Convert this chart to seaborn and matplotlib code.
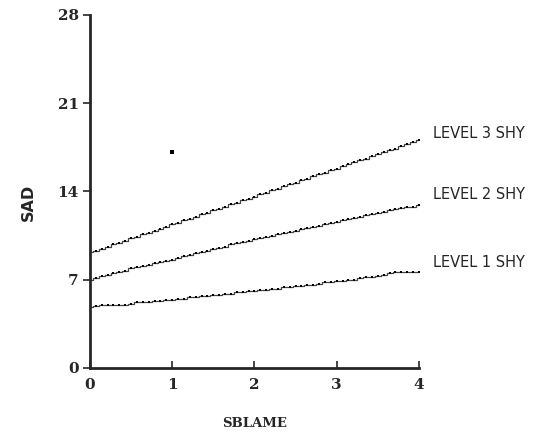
import numpy as np
import pandas as pd
import seaborn as sns
import matplotlib
matplotlib.use("Agg")
import matplotlib.pyplot as plt

# x sampled every 1/14 of a unit, 0..4
sblame = [k / 14 for k in range(57)]

level1 = [4.8, 4.9, 5.0, 5.0, 5.0, 5.0, 5.0, 5.1, 5.2, 5.2, 5.2, 5.3, 5.3, 5.4,
          5.4, 5.5, 5.5, 5.6, 5.6, 5.7, 5.7, 5.8, 5.8, 5.9, 5.9, 6.0, 6.0, 6.1,
          6.1, 6.2, 6.2, 6.3, 6.3, 6.4, 6.4, 6.5, 6.5, 6.6, 6.6, 6.7, 6.8, 6.8,
          6.9, 6.9, 7.0, 7.0, 7.1, 7.2, 7.2, 7.3, 7.4, 7.5, 7.6, 7.6, 7.6, 7.6, 7.6]
level2 = [7.0, 7.1, 7.3, 7.4, 7.5, 7.6, 7.7, 7.9, 8.0, 8.1, 8.2, 8.3, 8.4, 8.5,
          8.6, 8.7, 8.9, 9.0, 9.1, 9.2, 9.3, 9.4, 9.5, 9.6, 9.8, 9.9, 10.0, 10.1,
          10.2, 10.3, 10.4, 10.5, 10.6, 10.7, 10.8, 10.9, 11.0, 11.1, 11.2, 11.3, 11.4, 11.5,
          11.6, 11.7, 11.8, 11.9, 12.0, 12.1, 12.2, 12.3, 12.4, 12.5, 12.6, 12.7, 12.8, 12.8, 12.9]
level3 = [9.2, 9.3, 9.4, 9.6, 9.8, 9.9, 10.1, 10.3, 10.4, 10.6, 10.7, 10.9, 11.0, 11.2,
          11.4, 11.5, 11.7, 11.8, 12.0, 12.2, 12.3, 12.5, 12.6, 12.8, 13.0, 13.1, 13.3, 13.4,
          13.6, 13.8, 13.9, 14.1, 14.2, 14.4, 14.6, 14.7, 14.9, 15.0, 15.2, 15.4, 15.5, 15.7,
          15.8, 16.0, 16.2, 16.3, 16.5, 16.6, 16.8, 17.0, 17.1, 17.3, 17.4, 17.6, 17.8, 17.9, 18.1]

# lone point above the lines
stray_x = [1.0]
stray_y = [17.1]

series_names = ["LEVEL 1 SHY", "LEVEL 2 SHY", "LEVEL 3 SHY"]
label_y = [8.4, 13.8, 18.6]

y_ticks = [0, 7, 14, 21, 28]
x_ticks = [0, 1, 2, 3, 4]

sns.set_style("ticks")
plt.rcParams['font.family'] = ['DejaVu Sans']

fig = plt.figure(figsize=(5.5, 4.36), dpi=100)
ax = fig.add_axes([0.1636, 0.156, 0.5982, 0.8096])

for ys in [level1, level2, level3]:
    df = pd.DataFrame({"x": sblame, "y": ys})
    sns.lineplot(data=df, x="x", y="y", ax=ax, color="#444444", linewidth=0.9,
                 marker="s", markersize=2.0, markeredgewidth=0,
                 markerfacecolor="black", drawstyle="steps-mid")

sns.scatterplot(x=stray_x, y=stray_y, ax=ax, marker="s", s=5, color="black",
                linewidth=0)

for name, ly in zip(series_names, label_y):
    ax.text(4.17, ly, name, fontsize=10.5, va="center", ha="left",
            family="DejaVu Sans", clip_on=False)

serif = dict(family="DejaVu Serif", fontweight="bold")
ax.set_xlim(0, 4)
ax.set_ylim(0, 28)
ax.set_xticks(x_ticks)
ax.set_yticks(y_ticks)
ax.set_xticklabels([str(t) for t in x_ticks], fontsize=11, **serif)
ax.set_yticklabels([str(t) for t in y_ticks], fontsize=11, **serif)
ax.tick_params(axis="x", direction="in", length=5, width=1.2, pad=7)
ax.tick_params(axis="y", direction="out", length=5, width=1.2, pad=3)

sns.despine(ax=ax)
for sp in ["left", "bottom"]:
    ax.spines[sp].set_linewidth(2)

ax.set_xlabel("SBLAME", fontsize=9.5, labelpad=18, **serif)
ax.set_ylabel("SAD", family="DejaVu Sans", fontweight="heavy", fontsize=11.5)
ax.yaxis.set_label_coords(-0.165, 0.47)

fig.savefig("out.png", dpi=100)
